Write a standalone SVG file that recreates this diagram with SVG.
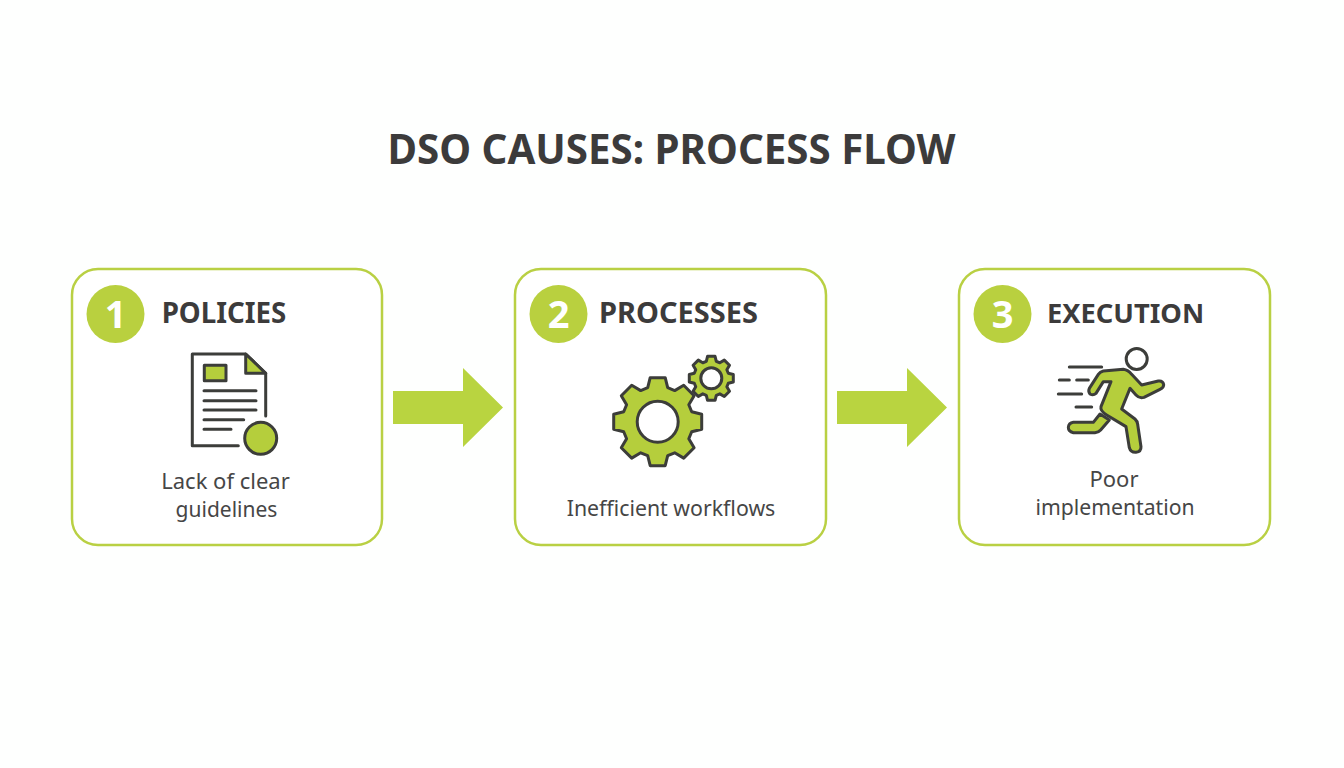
<svg xmlns="http://www.w3.org/2000/svg" width="1344" height="768" viewBox="0 0 1344 768">
<style>
text{font-family:"Noto Sans","Open Sans","Liberation Sans",sans-serif;fill:#3c3b3b}
.title{font-size:40.3px;font-weight:700;text-anchor:middle}
.head{font-size:29px;font-weight:700;text-anchor:middle}
.desc{font-size:22px;text-anchor:middle;fill:#464646}
.num{font-size:38px;font-weight:700;text-anchor:middle;fill:#fff}
.card{fill:#fff;stroke:#b9d043;stroke-width:2.5}
.badge{fill:#b9d03f}
.ink{fill:none;stroke:#3c3d3a;stroke-width:3;stroke-linecap:round;stroke-linejoin:round}
.fill{fill:#b5ce3c;stroke:#3c3d3a;stroke-width:3;stroke-linejoin:round}
.hole{fill:#fff;stroke:#3c3d3a;stroke-width:3}
.arrow{fill:#b9d440}
</style>
<defs>
<polygon id="gear" vector-effect="non-scaling-stroke" points="-10,-34 -7.5,-44 7.5,-44 10,-34 17,-31.1 26,-36.4 36.4,-26 31.1,-17 34,-10 44,-7.5 44,7.5 34,10 31.1,17 36.4,26 26,36.4 17,31.1 10,34 7.5,44 -7.5,44 -10,34 -17,31.1 -26,36.4 -36.4,26 -31.1,17 -34,10 -44,7.5 -44,-7.5 -34,-10 -31.1,-17 -36.4,-26 -26,-36.4 -17,-31.1"/>
</defs>
<rect width="1344" height="768" fill="#fefffe"/>
<text class="title" x="671.5" y="164">DSO CAUSES: PROCESS FLOW</text>
<g id="connectors">
<polygon class="arrow" points="393,391 463,391 463,368 503,407.5 463,447 463,424 393,424"/>
<polygon class="arrow" points="837,391 907,391 907,368 947,407.5 907,447 907,424 837,424"/>
</g>
<g id="node-policies">
<rect class="card" x="72" y="269" width="310" height="276" rx="26"/>
<circle class="badge" cx="115.5" cy="314" r="29"/>
<text class="num" x="115.5" y="328">1</text>
<text class="head" x="224" y="323" style="font-size:27.7px">POLICIES</text>
<path class="ink" d="M265.7 416V373.3L245.7 354H192.3V445.7H238.3"/>
<polygon class="fill" points="245.7,354 265.7,373.3 245.7,373.3"/>
<rect class="fill" x="204.3" y="365.3" width="21.7" height="15.4"/>
<path class="ink" d="M204 390.7H256M204 400.7H256M204 410H256M204 419.7H243.7M204 429.3H231"/>
<circle class="fill" cx="260.7" cy="438.3" r="16"/>
<text class="desc" x="225.5" y="489">Lack of clear</text>
<text class="desc" x="226.5" y="517" style="font-size:21px">guidelines</text>
</g>
<g id="node-processes">
<rect class="card" x="515" y="269" width="311" height="276" rx="26"/>
<circle class="badge" cx="558.5" cy="314" r="29"/>
<text class="num" x="558.5" y="328">2</text>
<text class="head" x="678.5" y="323">PROCESSES</text>
<use href="#gear" class="fill" transform="translate(657.7 421.7)"/>
<circle class="hole" cx="657.7" cy="421.7" r="20.5"/>
<use href="#gear" class="fill" transform="translate(711.3 378.3) scale(.5)"/>
<circle class="hole" cx="711.3" cy="378.3" r="10.5"/>
<text class="desc" x="671" y="516" style="font-size:21.3px">Inefficient workflows</text>
</g>
<g id="node-execution">
<rect class="card" x="959" y="269" width="311" height="276" rx="26"/>
<circle class="badge" cx="1002.5" cy="314" r="29"/>
<text class="num" x="1002.5" y="328">3</text>
<text class="head" x="1125.5" y="323" style="font-size:27.3px">EXECUTION</text>
<circle class="ink" cx="1136.7" cy="359" r="10.5"/>
<g transform="translate(1040 335) scale(.3333)">
<path class="fill" style="stroke-width:9" d="M190 108L250 103Q265 105 275 118L305 150L355 138Q368 136 371 148Q372 158 360 163L312 187Q298 191 288 180L270 160L245 222L285 252Q292 258 293 268L303 335Q304 350 288 352Q272 353 268 338L258 275L200 240Q180 228 183 215L213 140L190 140L168 175Q160 182 150 177Q144 170 148 160L175 118Q180 110 190 108Z"/>
<path class="fill" style="stroke-width:9" d="M180 237L208 255L182 285Q176 292 165 293L100 293Q85 290 85 277Q86 264 100 262L160 262Z"/>
<path class="ink" style="stroke-width:9" d="M88 96H185M58 135H88M110 135H145M55 177H125M108 216H155"/>
</g>
<text class="desc" x="1114" y="487">Poor</text>
<text class="desc" x="1115" y="515" style="font-size:21.2px">implementation</text>
</g>
</svg>
